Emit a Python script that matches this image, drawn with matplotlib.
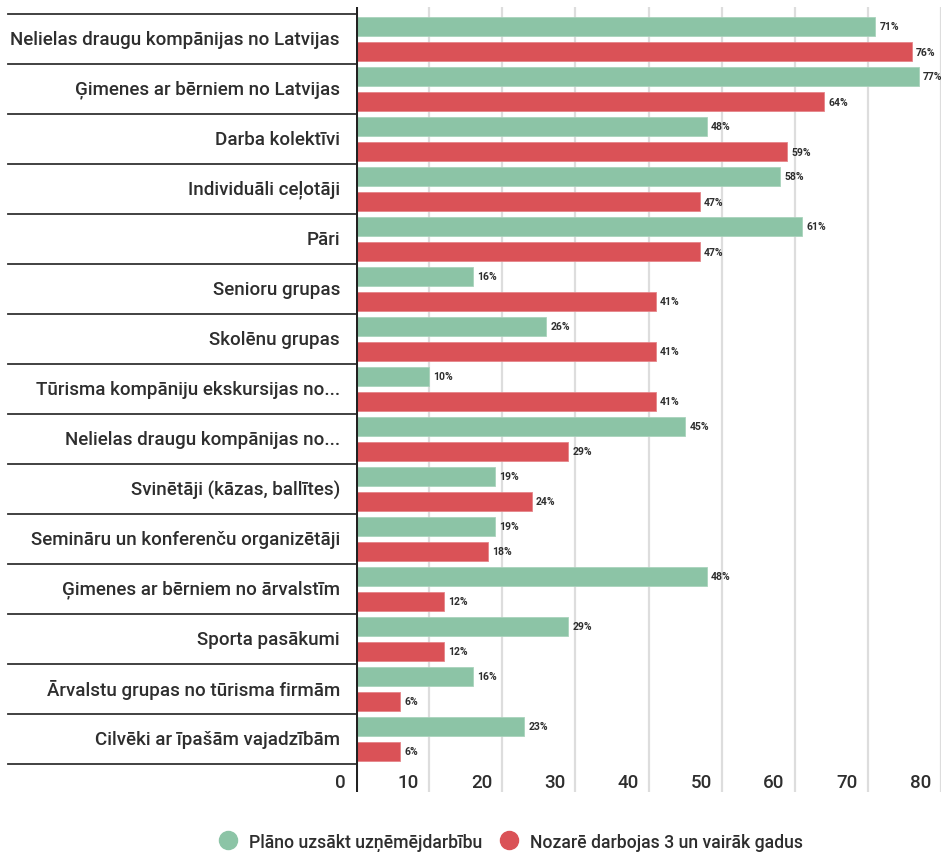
import matplotlib
matplotlib.use("Agg")
import matplotlib.pyplot as plt
from matplotlib.lines import Line2D
from matplotlib.transforms import offset_copy, blended_transform_factory
import numpy as np

plt.rcParams['font.family'] = ['Roboto', 'DejaVu Sans']

categories = [
    "Nelielas draugu kompānijas no Latvijas",
    "Ģimenes ar bērniem no Latvijas",
    "Darba kolektīvi",
    "Individuāli ceļotāji",
    "Pāri",
    "Senioru grupas",
    "Skolēnu grupas",
    "Tūrisma kompāniju ekskursijas no...",
    "Nelielas draugu kompānijas no...",
    "Svinētāji (kāzas, ballītes)",
    "Semināru un konferenču organizētāji",
    "Ģimenes ar bērniem no ārvalstīm",
    "Sporta pasākumi",
    "Ārvalstu grupas no tūrisma firmām",
    "Cilvēki ar īpašām vajadzībām",
]
plan_start = [71, 77, 48, 58, 61, 16, 26, 10, 45, 19, 19, 48, 29, 16, 23]
operating_3plus = [76, 64, 59, 47, 47, 41, 41, 41, 29, 24, 18, 12, 12, 6, 6]
series_names = ["Plāno uzsākt uzņēmējdarbību", "Nozarē darbojas 3 un vairāk gadus"]
x_ticks = [0, 10, 20, 30, 40, 50, 60, 70, 80]

GREEN = "#8cc4a6"
RED = "#da5257"
TEXT = "#2e2e2e"

W, H = 943, 853
fig = plt.figure(figsize=(W / 100, H / 100), dpi=100)
ax_left, ax_right = 356 / W, 941 / W
ax_top, ax_bottom = 8 / H, 793 / H
ax = fig.add_axes([ax_left, 1 - ax_bottom, ax_right - ax_left, ax_bottom - ax_top])

n = len(categories)
row_px = 50.0
top_extra = 7 / row_px
bot_extra = 28 / row_px
ax.set_ylim(n - 0.5 + bot_extra, -0.5 - top_extra)
ax.set_xlim(0, 80)

y = np.arange(n)
off = 0.25
h = 0.38
ax.barh(y - off, plan_start, height=h, color=GREEN, edgecolor="#a9d3bc", linewidth=0.6, zorder=3)
ax.barh(y + off, operating_3plus, height=h, color=RED, edgecolor="#e58589", linewidth=0.6, zorder=3)

# value labels
for yi, v in zip(y - off, plan_start):
    ax.annotate(f"{v}%", (v, yi), xytext=(3, 0), textcoords="offset points",
                ha="left", va="center", fontsize=7.5, fontweight="bold", color=TEXT)
for yi, v in zip(y + off, operating_3plus):
    ax.annotate(f"{v}%", (v, yi), xytext=(3, 0), textcoords="offset points",
                ha="left", va="center", fontsize=7.5, fontweight="bold", color=TEXT)

# gridlines
for t in x_ticks[1:]:
    ax.axvline(t, color="#dddddd", linewidth=1.6, zorder=1)

# axis line
ax.axvline(0, color="#222222", linewidth=2.2, zorder=4)

for s in ax.spines.values():
    s.set_visible(False)
ax.set_xticks([])
ax.set_yticks([])

# category labels & separators (left of axis)
trans_lab = offset_copy(ax.transData, fig=fig, x=-16, y=0, units="dots")
for yi, c in zip(y, categories):
    ax.text(0, yi, c, transform=trans_lab, ha="right", va="center",
            fontsize=13.5, fontweight="medium", color=TEXT, clip_on=False)

sep_trans = blended_transform_factory(fig.transFigure, ax.transData)
for b in np.arange(n + 1) - 0.5:
    ax.plot([8 / W, ax_left], [b, b], transform=sep_trans, color="#333333",
            linewidth=1.3, clip_on=False, zorder=2)

# x tick labels, right-aligned left of each gridline
trans_tick = offset_copy(ax.transData, fig=fig, x=-10, y=0, units="dots")
ytick = n - 0.5 + 18 / row_px
for t in x_ticks:
    ax.text(t, ytick, str(t), transform=trans_tick, ha="right", va="center",
            fontsize=13.5, fontweight="medium", color=TEXT, clip_on=False)

# legend
handles = [
    Line2D([], [], marker="o", linestyle="none", markersize=13, markerfacecolor=GREEN, markeredgecolor=GREEN),
    Line2D([], [], marker="o", linestyle="none", markersize=13, markerfacecolor=RED, markeredgecolor=RED),
]
fig.legend(handles, series_names, loc="center", bbox_to_anchor=(510 / W, 1 - 843 / H),
           ncol=2, frameon=False, handlelength=1.2, handletextpad=0.6, columnspacing=0.9,
           prop={"size": 12.7, "weight": "medium"}, labelcolor=TEXT)

fig.savefig("out.png", dpi=100)
